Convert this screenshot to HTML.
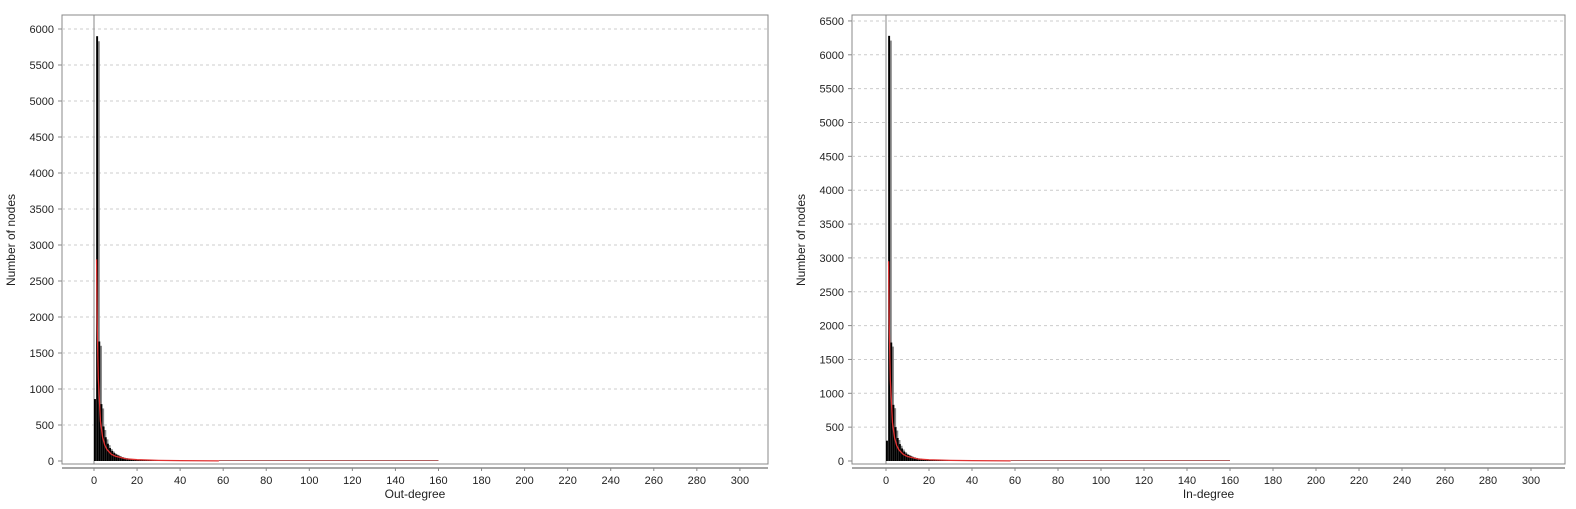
<!DOCTYPE html>
<html><head><meta charset="utf-8"><style>
body{margin:0;background:#fff;width:1576px;height:509px;overflow:hidden;font-family:"Liberation Sans",sans-serif}
svg{position:absolute;left:0;top:0}
</style></head><body>
<svg id="s" width="1576" height="509"></svg>
<script>
const outBlack=[860,5900,1660,790,480,330,240,180,140,110,90,75,60,50,42,36,30,26,22,20,18,15,13,12,10,8,7,6,6,5,5,5,4,4,4,4,3,3,3,3,3,3,3,3,2,2,2,2,2,2,2,2,2,2,2,2,2,2];
const outGray=[0,5830,1600,730,430,300,220,165,130,100,85,70,55,46,40,34,28,24,21,19,17,14,12,11,10,8,7,6,6,5,5,5,4,4,4,4,3,3,3,3,3,3,3,3,2,2,2,2,2,2,2,2,2,2,2,2,2,2];
const inBlack=[300,6280,1750,830,500,340,250,185,140,110,90,75,60,50,42,36,30,26,22,20,18,15,13,12,10,8,7,6,6,5,5,5,4,4,4,4,3,3,3,3,3,3,3,3,2,2,2,2,2,2,2,2,2,2,2];
const inGray=[0,6210,1690,780,450,310,225,170,130,100,85,70,55,46,40,34,28,24,21,19,17,14,12,11,10,8,7,6,6,5,5,5,4,4,4,4,3,3,3,3,3,3,3,3,2,2,2,2,2,2,2,2,2,2,2];
const fitX=[1.2,1.5,2,3,4,5,6,8,10,15,20,30,40,58];
const outFitY=[2800,1900,1150,550,330,220,160,95,65,30,18,9,5,2];
const inFitY=[2950,2000,1200,570,340,225,165,98,66,30,18,9,5,2];
const tailX=[58,160];
const xTicks=[0,20,40,60,80,100,120,140,160,180,200,220,240,260,280,300];
const outYTicks=[0,500,1000,1500,2000,2500,3000,3500,4000,4500,5000,5500,6000];
const inYTicks=[0,500,1000,1500,2000,2500,3000,3500,4000,4500,5000,5500,6000,6500];
const NS="http://www.w3.org/2000/svg";
const svg=document.getElementById('s');
function mk(tag,attrs,parent){const e=document.createElementNS(NS,tag);for(const k in attrs)e.setAttribute(k,attrs[k]);(parent||svg).appendChild(e);return e;}
function chart(c){
  const g=mk('g',{});
  
  
  const xs=v=>c.x0+v*c.xk, ys=v=>c.y0-v*c.yk;
  const box=mk('rect',{x:c.L,y:15,width:c.R-c.L,height:449,fill:'#fff',stroke:'#888','stroke-width':1},g);
  
  c.yt.forEach(t=>{
    if(t>0){const l=mk('line',{x1:c.L,x2:c.R,y1:ys(t),y2:ys(t),stroke:'#ccc','stroke-dasharray':'3,3'},g);
      }
    const tk=mk('line',{x1:c.L-4,x2:c.L,y1:ys(t),y2:ys(t),stroke:'#888'},g);
    
    const tx=mk('text',{x:c.L-8,y:ys(t)+4,'text-anchor':'end','font-size':11,fill:'#222'},g);tx.textContent=t;
    
  });
  const z=mk('line',{x1:xs(0),x2:xs(0),y1:15,y2:464,stroke:'#888'},g);
  
  c.gray.forEach((v,i)=>{if(!v)return;
    const r=mk('rect',{x:xs(i+0.6),y:ys(v),width:c.xk*1.1,height:c.y0-ys(v),fill:'#888'},g);
    });
  c.black.forEach((v,i)=>{
    const r=mk('rect',{x:xs(i),y:ys(v),width:c.xk*0.9,height:c.y0-ys(v),fill:'#000'},g);
    });
  const t=mk('line',{x1:xs(tailX[0]),x2:xs(tailX[1]),y1:c.y0-0.5,y2:c.y0-0.5,stroke:'#b06060','stroke-width':1},g);
  
  const p=mk('polyline',{points:fitX.map((x,i)=>xs(x)+','+ys(c.fit[i])).join(' '),fill:'none',stroke:'#e03030','stroke-width':1.3},g);
  
  const ax=mk('line',{x1:c.L,x2:c.R,y1:468,y2:468,stroke:'#888','stroke-width':1.5},g);
  
  xTicks.forEach(t=>{
    const tk=mk('line',{x1:xs(t),x2:xs(t),y1:468,y2:471,stroke:'#888'},g);
    
    const tx=mk('text',{x:xs(t),y:484,'text-anchor':'middle','font-size':11,fill:'#222'},g);tx.textContent=t;
    
  });
  const xt=mk('text',{x:(c.L+c.R)/2,y:498,'text-anchor':'middle','font-size':12,fill:'#222'},g);xt.textContent=c.xTitle;
  
  const yt=mk('text',{x:0,y:0,'text-anchor':'middle','font-size':12,fill:'#222',transform:`translate(${c.L-47},240) rotate(-90)`},g);yt.textContent='Number of nodes';
  
}
chart({name:'out-degree-chart',L:62,R:768,x0:94,xk:2.153,y0:461,yk:0.072,yt:outYTicks,black:outBlack,gray:outGray,fit:outFitY,xTitle:'Out-degree'});
chart({name:'in-degree-chart',L:852,R:1565,x0:886,xk:2.15,y0:461,yk:0.0677,yt:inYTicks,black:inBlack,gray:inGray,fit:inFitY,xTitle:'In-degree'});
</script>
</body></html>
